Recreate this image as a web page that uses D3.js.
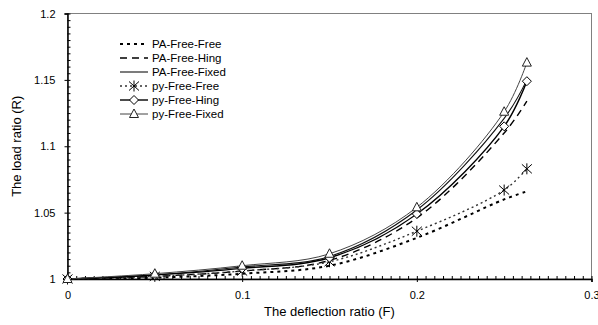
<!DOCTYPE html>
<html>
<head>
<meta charset="utf-8">
<script src="https://cdn.jsdelivr.net/npm/d3@7"></script>
<style>
  body { margin: 0; background: #fff; }
  text { font-family: "Liberation Sans", Arial, sans-serif; fill: #000; }
</style>
</head>
<body>
<svg id="chart"></svg>
<script>
// deflection ratio F (x) and load ratio R (y)
const deflection   = [0, 0.05, 0.1, 0.15, 0.2, 0.25, 0.263];
const paFreeFree   = [1, 1.001, 1.004, 1.010, 1.031, 1.060, 1.066];
const paFreeHing   = [1, 1.002, 1.006, 1.014, 1.046, 1.110, 1.134];
const paFreeFixed  = [1, 1.003, 1.009, 1.017, 1.052, 1.121, 1.150];
const pyFreeFree   = [1, 1.002, 1.006, 1.013, 1.036, 1.067, 1.083];
const pyFreeHing   = [1, 1.003, 1.008, 1.016, 1.049, 1.115, 1.149];
const pyFreeFixed  = [1, 1.004, 1.010, 1.019, 1.054, 1.126, 1.163];

const seriesNames = ["PA-Free-Free", "PA-Free-Hing", "PA-Free-Fixed",
                     "py-Free-Free", "py-Free-Hing", "py-Free-Fixed"];
const xTicks = [0, 0.1, 0.2, 0.3];
const yTicks = [1, 1.05, 1.1, 1.15, 1.2];

const W = 598, H = 325;
const margin = {top: 13.5, right: 6.5, bottom: 46, left: 67.5};
const width = W - margin.left - margin.right,
      height = H - margin.top - margin.bottom;

const svg = d3.select("#chart").attr("width", W).attr("height", H);
const g = svg.append("g").attr("transform", `translate(${margin.left},${margin.top})`);

const x = d3.scaleLinear().domain([0, 0.3]).range([0, width]);
const y = d3.scaleLinear().domain([1, 1.2]).range([height, 0]);

const styles = {
  "PA-Free-Free":  {color: "#000", w: 2,   dash: "3,4", marker: null},
  "PA-Free-Hing":  {color: "#000", w: 1.4, dash: "7,5", marker: null},
  "PA-Free-Fixed": {color: "#111", w: 1.1, dash: null,  marker: null},
  "py-Free-Free":  {color: "#333", w: 1.4, dash: "2,3", marker: "star"},
  "py-Free-Hing":  {color: "#000", w: 1.4, dash: null,  marker: "diamond"},
  "py-Free-Fixed": {color: "#444", w: 1,   dash: null,  marker: "triangle"}
};
const values = [paFreeFree, paFreeHing, paFreeFixed, pyFreeFree, pyFreeHing, pyFreeFixed];
const series = seriesNames.map((name, i) => ({
  name,
  style: styles[name],
  points: deflection.map((f, j) => ({f, r: values[i][j]}))
}));

// frame (top & right)
g.append("rect")
  .attr("width", width).attr("height", height)
  .attr("fill", "none").attr("stroke", "#808080").attr("stroke-width", 1);

// axes: minor ticks inside, major ticks crossing
const xMinor = d3.range(0, 0.3001, 0.005);
const yMinor = d3.range(1, 1.2001, 0.005);

g.append("g")
  .attr("transform", `translate(0,${height})`)
  .call(d3.axisBottom(x).tickValues(xMinor).tickSize(-3).tickFormat(""))
  .call(a => a.select(".domain").remove());
g.append("g")
  .call(d3.axisLeft(y).tickValues(yMinor).tickSize(-3).tickFormat(""))
  .call(a => a.select(".domain").remove());

g.append("g")
  .attr("transform", `translate(0,${height})`)
  .call(d3.axisBottom(x).tickValues(xTicks).tickSize(3).tickPadding(9).tickFormat(d3.format("")))
  .call(a => a.selectAll("text").attr("font-size", 11).attr("font-family", null))
  .call(a => a.select(".domain").attr("stroke-width", 1.5));
g.append("g")
  .call(d3.axisLeft(y).tickValues(yTicks).tickSize(3).tickPadding(9).tickFormat(d3.format("")))
  .call(a => a.selectAll("text").attr("font-size", 11).attr("font-family", null))
  .call(a => a.select(".domain").attr("stroke-width", 1.5));

// lines
const line = d3.line()
  .curve(d3.curveCatmullRom.alpha(0.5))
  .x(d => x(d.f))
  .y(d => y(d.r));

g.selectAll(".series")
  .data(series)
  .enter().append("path")
  .attr("class", "series")
  .attr("fill", "none")
  .attr("stroke", d => d.style.color)
  .attr("stroke-width", d => d.style.w)
  .attr("stroke-dasharray", d => d.style.dash)
  .attr("d", d => line(d.points));

// markers
function drawMarker(sel, type) {
  if (type === "star") {
    sel.append("path")
      .attr("d", "M0,-5.5V5.5M-5,-4.5L5,4.5M-5,4.5L5,-4.5")
      .attr("stroke", "#000").attr("stroke-width", 1).attr("fill", "none");
  } else if (type === "diamond") {
    sel.append("path")
      .attr("d", "M0,-4.5L4.5,0L0,4.5L-4.5,0Z")
      .attr("stroke", "#000").attr("stroke-width", 1).attr("fill", "#fff");
  } else if (type === "triangle") {
    sel.append("path")
      .attr("d", "M0,-5L4.5,3.5H-4.5Z")
      .attr("stroke", "#222").attr("stroke-width", 1).attr("fill", "#fff");
  }
}

series.filter(s => s.style.marker).forEach(s => {
  g.selectAll(null)
    .data(s.points)
    .enter().append("g")
    .attr("transform", d => `translate(${x(d.f)},${y(d.r)})`)
    .each(function() { drawMarker(d3.select(this), s.style.marker); });
});

// axis titles
svg.append("text")
  .attr("x", margin.left + width / 2).attr("y", 316)
  .attr("text-anchor", "middle").attr("font-size", 13)
  .text("The deflection ratio (F)");

svg.append("text")
  .attr("transform", `translate(21,${margin.top + height / 2}) rotate(-90)`)
  .attr("text-anchor", "middle").attr("font-size", 13)
  .text("The load ratio (R)");

// legend
const legend = svg.append("g").attr("transform", "translate(120,44)");
const row = legend.selectAll(".row")
  .data(series)
  .enter().append("g")
  .attr("class", "row")
  .attr("transform", (d, i) => `translate(0,${i * 14})`);

row.append("line")
  .attr("x1", 0).attr("x2", 28)
  .attr("stroke", d => d.style.color)
  .attr("stroke-width", d => d.style.w)
  .attr("stroke-dasharray", d => d.style.dash);

row.filter(d => d.style.marker).append("g")
  .attr("transform", "translate(14,0)")
  .each(function(d) { drawMarker(d3.select(this), d.style.marker); });

row.append("text")
  .attr("x", 32).attr("dy", "0.35em")
  .attr("font-size", 11.5)
  .text(d => d.name);
</script>
</body>
</html>
